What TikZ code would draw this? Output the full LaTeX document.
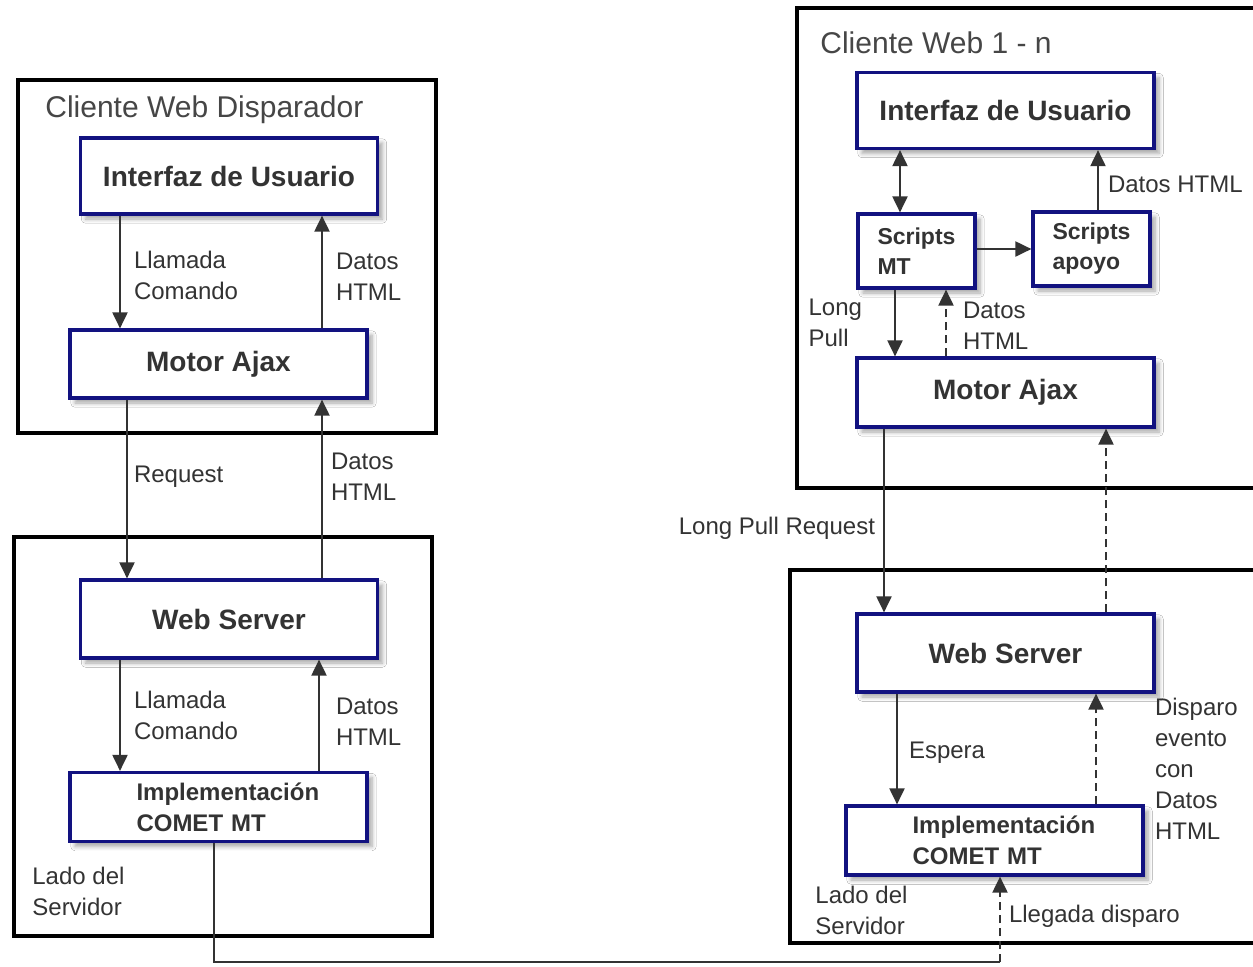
\documentclass[tikz,border=0pt]{standalone}
\usepackage{fontspec}
\setmainfont{Liberation Sans}
\usetikzlibrary{arrows.meta,positioning,shadows.blur}
\definecolor{boxblue}{RGB}{18,18,128}
\definecolor{inkgray}{RGB}{51,51,51}
\definecolor{titlegray}{RGB}{70,70,70}

\begin{document}
\begin{tikzpicture}[x=0.5pt, y=-0.5pt, >={Triangle[length=8pt,width=7.5pt]},
             frame/.style = {draw=black, line width=1.7pt},
             block/.style = {draw=boxblue, line width=1.6pt, fill=white, text=inkgray,
                             font=\fontsize{14}{17}\selectfont\bfseries,
                             minimum width=148.5pt, minimum height=38pt, align=center, inner sep=0pt,
                             blur shadow={shadow xshift=2.5pt, shadow yshift=-2.5pt, shadow blur steps=6, shadow opacity=35}},
            sblock/.style = {block, minimum width=58.5pt, minimum height=37pt, align=left,
                             font=\fontsize{11.5}{15}\selectfont\bfseries},
            cblock/.style = {block, minimum height=34.5pt, align=left, text width=82pt,
                             font=\fontsize{12}{15.5}\selectfont\bfseries},
               lbl/.style = {text=inkgray, font=\fontsize{12}{15.5}\selectfont, align=left, inner sep=1pt},
             title/.style = {text=titlegray, font=\fontsize{15}{18}\selectfont, anchor=west, inner sep=0pt},
              link/.style = {draw=inkgray, line width=1pt},
              wait/.style = {link, dash pattern=on 4pt off 2.5pt},
]
\path[use as bounding box, fill=white] (0,0) rectangle (1253,966);

%% frames
\draw[frame] (18,80) rectangle (436,433);
\draw[frame] (14,537) rectangle (432,936);
\draw[frame] (797,8) rectangle (1262,488);
\draw[frame] (790,570) rectangle (1262,943);

\node [title] (ltitle) at (45,110) {Cliente Web Disparador};
\node [title] (rtitle) at (820,43) {Cliente Web 1 - n};
\node [lbl, anchor=west] (lside) at (30,891) {Lado del\\Servidor};
\node [lbl, anchor=west] (rside) at (813,910) {Lado del\\Servidor};

%% left side
\node [block]                      (lui)    at (229,176)   {Interfaz de Usuario};
\node [block, minimum height=34pt] (lajax)  at (218.5,364) {Motor Ajax};
\node [block, minimum height=39pt] (lweb)   at (229,619)   {Web Server};
\node [cblock]                     (lcomet) at (218.5,807) {Implementación\\COMET MT};

%% right side
\node [block]                        (rui)    at (1005.5,110.5) {Interfaz de Usuario};
\node [sblock]                       (rsmt)   at (916.5,251)    {Scripts\\MT};
\node [sblock]                       (rsap)   at (1091.5,249)   {Scripts\\apoyo};
\node [block, minimum height=34.5pt] (rajax)  at (1005.5,392.5) {Motor Ajax};
\node [block, minimum height=39pt]   (rweb)   at (1005.5,653)   {Web Server};
\node [cblock]                       (rcomet) at (994.5,840.5)  {Implementación\\COMET MT};

%% paths
\path[every edge/.style={link,->}]
               (lui.south -| 120,0)     edge node[lbl, right=5.5pt, pos=0.53] {Llamada\\Comando} (lajax.north -| 120,0)
               (lajax.north -| 322,0)   edge node[lbl, right=5.5pt, pos=0.46] {Datos\\HTML} (lui.south -| 322,0)
               (lajax.south -| 127,0)   edge node[lbl, right=2pt, pos=0.43] {Request} (lweb.north -| 127,0)
               (lweb.north -| 322,0)    edge node[lbl, right=3pt, pos=0.57] {Datos\\HTML} (lajax.south -| 322,0)
               (lweb.south -| 120,0)    edge node[lbl, right=5.5pt] {Llamada\\Comando} (lcomet.north -| 120,0)
               (lcomet.north -| 319,0)  edge node[lbl, right=7pt, pos=0.44] {Datos\\HTML} (lweb.south -| 319,0)
               ;
\path[every edge/.style={link,->}]
               (rui.south -| 900,0)     edge[<->] (rsmt.north -| 900,0)
               (rsmt.east |- rsap.west) edge (rsap.west)
               (rsap.north -| 1098,0)   edge node[lbl, right=3.5pt, pos=0.44] {Datos HTML} (rui.south -| 1098,0)
               (rsmt.south -| 895,0)    edge node[lbl, left=15pt] {Long\\Pull} (rajax.north -| 895,0)
               (rajax.north -| 946,0)   edge[wait] node[lbl, right=7pt, pos=0.46] {Datos\\HTML} (rsmt.south -| 946,0)
               (rajax.south -| 884,0)   edge node[lbl, left=3pt, pos=0.54] {Long Pull Request} (rweb.north -| 884,0)
               (rweb.north -| 1106,0)   edge[wait] (rajax.south -| 1106,0)
               (rweb.south -| 897,0)    edge node[lbl, right=4.5pt, pos=0.53] {Espera} (rcomet.north -| 897,0)
               (rcomet.north -| 1096,0) edge[wait] node[lbl, right=28pt, pos=0.32] {Disparo\\evento\\con\\Datos\\HTML} (rweb.south -| 1096,0)
               ;

%% trigger link
\coordinate (lowl) at (214,962);
\coordinate (lowr) at (1000,962);
\draw[link] (lcomet.south -| lowl) -- (lowl) -- (lowr);
\draw[wait,->] (lowr) -- node[lbl, right=3pt, pos=0.54] {Llegada disparo} (rcomet.south -| lowr);
\end{tikzpicture}
\end{document}
